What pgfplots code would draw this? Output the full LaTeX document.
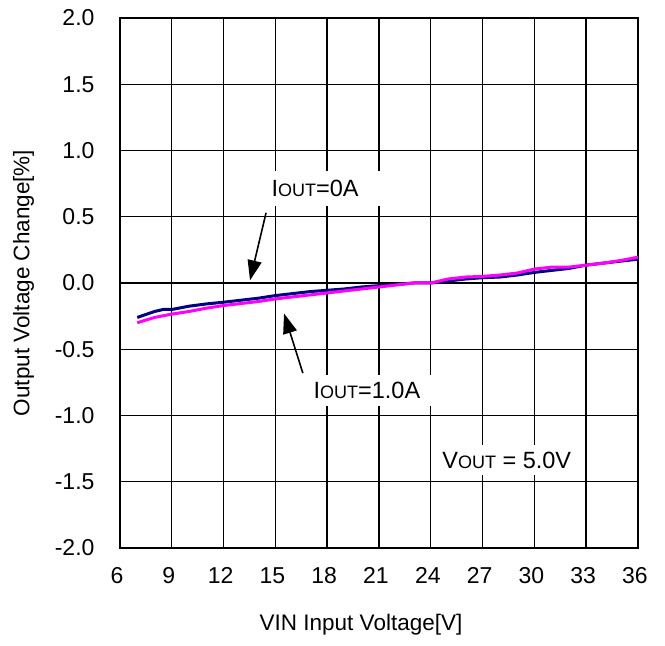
\documentclass[border=0pt]{standalone}
\usepackage{fontspec}
\setmainfont{Liberation Sans}
\usepackage{pgfplots}
\pgfplotsset{compat=1.18}
\usetikzlibrary{arrows.meta}
\definecolor{navyline}{RGB}{0,0,128}
\definecolor{magline}{RGB}{255,0,255}
\begin{document}
\begin{tikzpicture}
\useasboundingbox (-120pt,-98pt) rectangle (545pt,548pt);
\begin{axis}[
  at={(0,0)}, anchor=south west,
  scale only axis, width=518pt, height=530pt,
  xmin=6, xmax=36, ymin=-2, ymax=2,
  xtick={6,9,...,36}, ytick={-2,-1.5,...,2},
  grid=major,
  grid style={black, line width=1.4pt},
  axis line style={black, line width=2pt},
  major tick length=0pt,
  /pgf/number format/assume math mode=true,
  yticklabel style={/pgf/number format/fixed, /pgf/number format/fixed zerofill, /pgf/number format/precision=1},
  ticklabel style={font=\fontsize{23}{23}\selectfont},
  xticklabel style={yshift=-16pt, xshift=-3pt, text height=16pt, text depth=0pt},
  yticklabel style={xshift=-22pt},
  xlabel={VIN Input Voltage[V]},
  ylabel={Output Voltage Change[\%]},
  label style={font=\fontsize{22.5}{22.5}\selectfont},
  xlabel style={yshift=-24pt, xshift=-18pt},
  ylabel style={yshift=14pt},
  clip=false,
]
\addplot[navyline, line width=3pt, line join=round] coordinates {
(7,-0.26) (8,-0.215) (8.5,-0.20) (9,-0.20) (10,-0.175) (11,-0.158) (12,-0.145) (13,-0.13) (14,-0.115) (15,-0.095) (16,-0.08) (17,-0.065) (18,-0.055) (19,-0.045) (20,-0.03) (21,-0.02) (22,-0.012) (23,0.0) (24,0.0) (25,0.015) (26,0.03) (27,0.04) (28,0.045) (29,0.06) (30,0.08) (31,0.095) (32,0.11) (33,0.135) (34,0.15) (35,0.165) (36,0.18)
};
\addplot[magline, line width=3pt, line join=round] coordinates {
(7,-0.30) (8,-0.26) (9,-0.235) (10,-0.215) (11,-0.19) (12,-0.17) (13,-0.155) (14,-0.14) (15,-0.12) (16,-0.105) (17,-0.09) (18,-0.075) (19,-0.06) (20,-0.045) (21,-0.03) (22,-0.015) (23,0.0) (24,0.0) (25,0.03) (26,0.045) (27,0.05) (28,0.06) (29,0.075) (30,0.105) (31,0.12) (32,0.12) (33,0.135) (34,0.15) (35,0.17) (36,0.195)
};
\node[fill=white, inner xsep=22pt, inner ysep=9pt, font=\fontsize{23.5}{23.5}\selectfont] at (axis cs:17.3,0.713) {I{\fontsize{18}{18}\selectfont OUT}=0A};
\node[fill=white, inner xsep=15pt, inner ysep=7pt, font=\fontsize{23.5}{23.5}\selectfont] at (axis cs:20.3,-0.81) {I{\fontsize{18}{18}\selectfont OUT}=1.0A};
\node[fill=white, inner xsep=11pt, inner ysep=7pt, font=\fontsize{23.5}{23.5}\selectfont] at (axis cs:28.4,-1.336) {V{\fontsize{18}{18}\selectfont OUT} = 5.0V};
\draw[line width=1.6pt, -{Triangle[length=20pt,width=14pt]}] (axis cs:14.46,0.53) -- (axis cs:13.53,0.02);
\draw[line width=1.6pt, -{Triangle[length=20pt,width=14pt]}] (axis cs:16.59,-0.68) -- (axis cs:15.5,-0.23);
\end{axis}
\end{tikzpicture}
\end{document}
